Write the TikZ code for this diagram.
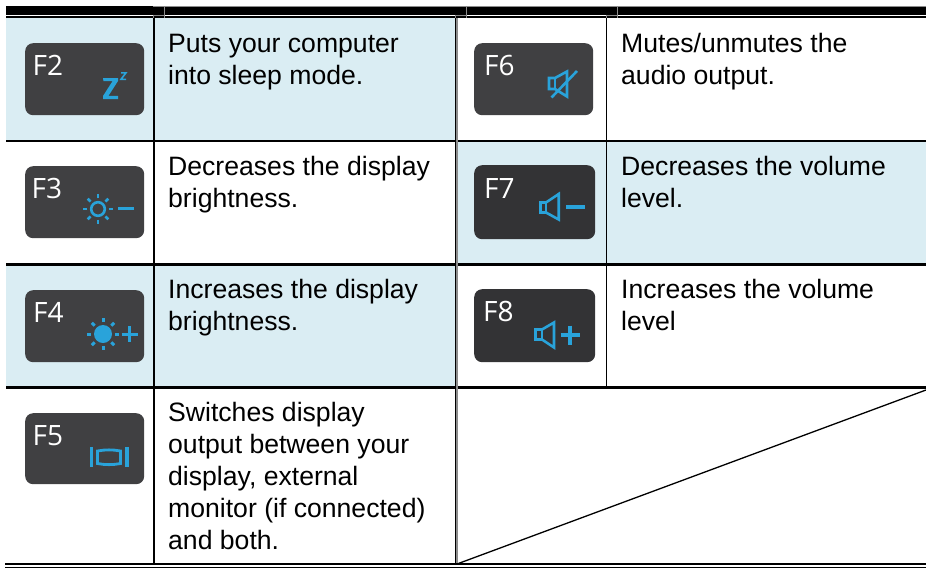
\documentclass[tikz,border=0pt]{standalone}
\usepackage{fontspec}
\setmainfont{Liberation Sans}
\newfontfamily\keyfont{Open Sans}
\definecolor{rowblue}{HTML}{DAEDF3}
\definecolor{keydark}{HTML}{404042}
\definecolor{keyblack}{HTML}{333335}
\definecolor{iconblue}{HTML}{29A3DA}
\definecolor{ruleg}{HTML}{8C8C8C}
\newcommand{\cellstrut}{\rule{0pt}{20pt}}
\tikzset{
  rowfill/.style={fill=rowblue,draw=none},
  cell/.style={anchor=north west,inner sep=0pt,align=left,text=black,font=\fontsize{26.6}{32}\selectfont},
  keybox/.style={anchor=north west,draw=none,fill=keydark,rounded corners=8pt,inner sep=0pt,minimum width=119pt,minimum height=72pt},
  keylabel/.style={anchor=base west,inner sep=0pt,text=white,font=\keyfont\fontsize{28}{30}\selectfont},
  icon/.style={draw=iconblue,line width=2.6pt},
  iconfill/.style={fill=iconblue,draw=none},
  rulethin/.style={draw=black,line width=2pt},
  rulethick/.style={draw=black,line width=3pt},
}
\begin{document}
\begin{tikzpicture}[x=1pt,y=-1pt]
\useasboundingbox (0,0) rectangle (926,568);
% shaded rows
\fill[rowfill] (6,18) rectangle (455,141);
\fill[rowfill] (6,265) rectangle (455,387);
\fill[rowfill] (458,142) rectangle (926,264);
% top rule
\fill[black] (6,6) rectangle (926,14.7);
\fill[black] (6,16.2) rectangle (926,18);
\draw[ruleg,line width=.6pt] (153,6) -- (926,6);
\draw[ruleg,line width=.6pt] (153,14.7) -- (153,18) (164,6) -- (164,18) (153,15.5) -- (164,15.5);
\draw[ruleg,line width=.6pt] (455,14.7) -- (455,18) (466,6) -- (466,18) (455,15.5) -- (466,15.5);
\draw[ruleg,line width=.6pt] (606,14.7) -- (606,18) (617,6) -- (617,18) (606,15.5) -- (617,15.5);
% horizontal rules
\draw[rulethin] (6,141) -- (926,141);
\draw[rulethick] (6,264.5) -- (926,264.5);
\draw[rulethick] (6,387) -- (926,387);
\fill[black] (5,562.8) rectangle (926,565);
\draw[black,line width=1pt] (5,567.4) -- (926,567.4);
% vertical rules
\draw[black,line width=1.8pt] (154,18) -- (154,563);
\draw[black,line width=1.6pt] (606.5,18) -- (606.5,387);
\fill[ruleg] (455,18) rectangle (457.6,563);
\draw[black,line width=.5pt] (454.8,18) -- (454.8,563);
% empty cell diagonal
\coordinate (diagA) at (457,564);
\coordinate (diagB) at (926,390);
\draw[black,line width=1.3pt] (diagA) -- (diagB);
% keys
\node[keybox] (k2) at (25,43) {};
\node[keybox] (k3) at (25,166) {};
\node[keybox] (k4) at (25,290) {};
\node[keybox,minimum height=71pt] (k5) at (25,413) {};
\node[keybox] (k6) at (474,43) {};
\node[keybox,fill=keyblack,minimum width=121pt,minimum height=74pt] (k7) at (474,165) {};
\node[keybox,fill=keyblack,minimum width=121pt,minimum height=73pt] (k8) at (474,289) {};
\node[keylabel] (l2) at (32.5,75.5) {F2};
\node[keylabel] (l3) at (31.5,198) {F3};
\node[keylabel] (l4) at (33,322) {F4};
\node[keylabel] (l5) at (32.5,445) {F5};
\node[keylabel] (l6) at (484,75.5) {F6};
\node[keylabel] (l7) at (484,198) {F7};
\node[keylabel] (l8) at (483,321) {F8};
% F2 icon
\fill[iconfill] (103,78) -- (118,78) -- (118,81) -- (108.5,95.8) -- (118,95.8) -- (118,99) -- (103,99) -- (103,96) -- (112.5,81.2) -- (103.5,81.2) -- cycle;
\draw[icon,line width=1.6pt] (121,72.8) -- (126,72.8) -- (121,79.3) -- (126,79.3);
% F3 icon
\draw[icon] (98,209) circle (6.8);
\foreach \a in {0,45,...,315} \draw[icon] (98,209) ++(\a:10.6) -- ++(\a:4);
\draw[icon,line width=2.8pt] (118,208.7) -- (134,208.7);
% F4 icon
\fill[iconfill] (103,334) circle (9);
\foreach \a in {0,45,...,315} \draw[icon,line width=3pt] (103,334) ++(\a:11.8) -- ++(\a:4);
\draw[icon,line width=3pt] (121.5,334) -- (137.5,334) (129.5,326) -- (129.5,342);
% F5 icon
\draw[icon,line width=3.2pt] (91.3,447) -- (91.3,467) (127,447) -- (127,467);
\draw[icon,line width=2.8pt] (97.5,451) .. controls (105,449.5) and (113,449.5) .. (120.5,451) -- (120.5,463.5) .. controls (113,465) and (105,465) .. (97.5,463.5) -- cycle;
% F6 icon
\draw[icon,line join=miter] (549,78) -- (555,78) -- (567,71.5) -- (567,96.5) -- (555,89) -- (549,89) -- cycle;
\draw[icon] (555,78) -- (555,89);
\draw[icon] (577,71) -- (551.5,97.5);
% F7 icon
\draw[icon,line join=miter] (540.5,202.5) -- (546,202.5) -- (558.7,194) -- (558.7,219.5) -- (546,212.5) -- (540.5,212.5) -- cycle;
\draw[icon] (546,202.5) -- (546,212.5);
\draw[icon,line width=3.8pt] (566,207) -- (584.5,207);
% F8 icon
\draw[icon,line join=miter] (535.5,329.5) -- (542,329.5) -- (554,322.5) -- (554,347.5) -- (542,339.5) -- (535.5,339.5) -- cycle;
\draw[icon] (542,329.5) -- (542,339.5);
\draw[icon,line width=4.2pt] (560.5,335) -- (579.5,335) (570,325.5) -- (570,344.5);
% cell texts
\node[cell] (t2) at (168,32) {\cellstrut Puts your computer\\into sleep mode.};
\node[cell] (t3) at (168,155) {\cellstrut Decreases the display\\brightness.};
\node[cell] (t4) at (168,278) {\cellstrut Increases the display\\brightness.};
\node[cell] (t5) at (168,401) {\cellstrut Switches display\\output between your\\display, external\\monitor (if connected)\\and both.};
\node[cell] (t6) at (621,32) {\cellstrut Mutes/unmutes the\\audio output.};
\node[cell] (t7) at (621,155) {\cellstrut Decreases the volume\\level.};
\node[cell] (t8) at (621,278) {\cellstrut Increases the volume\\level};
\end{tikzpicture}
\end{document}
